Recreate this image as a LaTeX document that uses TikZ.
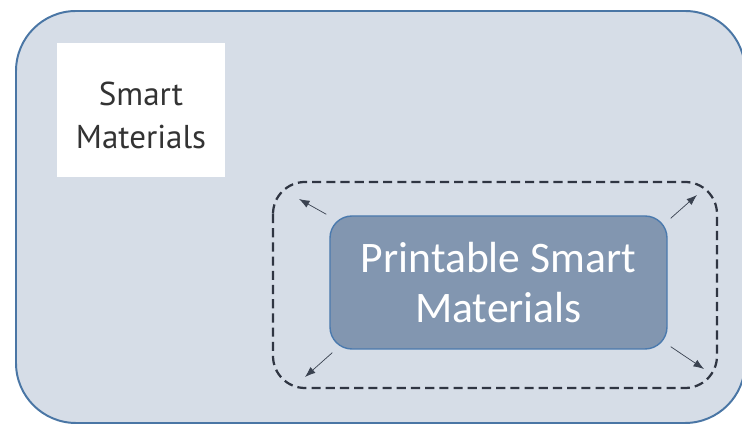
\documentclass[tikz,border=0pt]{standalone}
\usepackage{fontspec}
\setmainfont{Carlito}
\newfontfamily\gillish{PT Sans}
\usetikzlibrary{arrows.meta}

\definecolor{panelfill}{HTML}{D6DDE7}
\definecolor{panelline}{HTML}{4A76A5}
\definecolor{corefill}{HTML}{8296B0}
\definecolor{coreline}{HTML}{4B7AAE}
\definecolor{dashline}{HTML}{2F3542}
\definecolor{tipline}{HTML}{3A4250}
\definecolor{labeltext}{HTML}{333333}

\begin{document}
\begin{tikzpicture}[
  x=0.25mm, y=-0.25mm,
  % Box styles
  panel/.style={draw=panelline, fill=panelfill, line width=1.4pt,
    rounded corners=15mm},
  card/.style={rectangle, fill=white, minimum width=42mm, minimum height=33.5mm,
    inner sep=0pt},
  logo/.style={align=center, inner sep=0pt, text=labeltext,
    font=\gillish\fontsize{23.5}{30.5}\selectfont},
  core/.style={rectangle, rounded corners=5.5mm, draw=coreline, fill=corefill,
    line width=1pt, minimum width=84.25mm, minimum height=33.25mm,
    align=center, text=white, font=\fontsize{31}{35.5}\selectfont},
  % Frame and arrow styles
  halo/.style={draw=dashline, line width=1.6pt, dash pattern=on 6.5pt off 3.6pt,
    rounded corners=8mm},
  spread/.style={-{Latex[length=7.5pt, width=5.5pt]}, draw=tipline, line width=0.5pt},
]

% Page frame
\useasboundingbox (0,0) rectangle (742,425);

% Outer panel (runs off the right edge)
\draw[panel] (16,11) rectangle (745,423);

% --- Logo card ---
\node[card] (smcard) at (141,110) {};
\node[logo] (sm) at ([yshift=-4]smcard.center) {Smart\\Materials};

% --- Dashed growth frame ---
\draw[halo] (273,182) rectangle (717,388);

% --- Core box ---
\node[core] (pm) at (498.5,282.5) {Printable Smart\\Materials};

% Arrow tips
\coordinate (tl) at (299,199);
\coordinate (tr) at (697,195);
\coordinate (bl) at (305,377);
\coordinate (br) at (704,369);

\draw[spread] ([shift={(-3,-1)}]pm.north west) -- (tl);
\draw[spread] ([shift={(3,3)}]pm.north east) -- (tr);
\draw[spread] ([shift={(3,3)}]pm.south west) -- (bl);
\draw[spread] ([shift={(3,-3)}]pm.south east) -- (br);

\end{tikzpicture}
\end{document}
